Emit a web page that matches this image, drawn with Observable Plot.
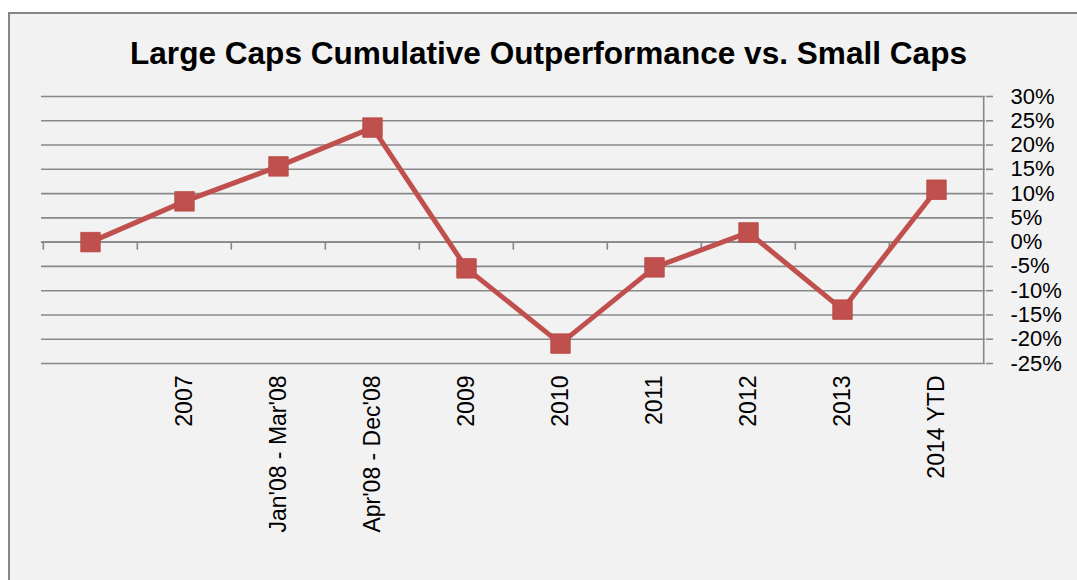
<!DOCTYPE html>
<html>
<head>
<meta charset="utf-8">
<script src="https://cdn.jsdelivr.net/npm/d3@7"></script>
<script src="https://cdn.jsdelivr.net/npm/@observablehq/plot@0.6"></script>
<style>
  html, body { margin: 0; padding: 0; background: #ffffff; width: 1077px; height: 580px; overflow: hidden; }
  #frame { position: absolute; left: 8px; top: 12px; width: 1200px; height: 700px;
           border: 2px solid #868686; background: #f2f2f2; box-sizing: border-box; }
  #chart { position: absolute; left: 0; top: 0; width: 1077px; height: 580px; }
  #title { position: relative; height: 80px; }
  #title span { position: absolute; left: 0; top: 37px; white-space: nowrap; line-height: 1;
                font-family: "Liberation Sans Narrow", "Liberation Sans", sans-serif; font-weight: bold;
                font-size: 32px; color: #000; transform-origin: 0 0; }
  svg { display: block; }
</style>
</head>
<body>
<div id="frame"></div>
<div id="chart">
  <div id="title"><span id="titletext">Large Caps Cumulative Outperformance vs. Small Caps</span></div>
</div>
<script>
const titleText = "Large Caps Cumulative Outperformance vs. Small Caps";
const categories = [" ", "2007", "Jan'08 - Mar'08", "Apr'08 - Dec'08", "2009", "2010", "2011", "2012", "2013", "2014 YTD"];
const values = [0, 8.4, 15.6, 23.6, -5.4, -20.9, -5.2, 2.0, -13.9, 10.8];
const yTicks = [-25, -20, -15, -10, -5, 0, 5, 10, 15, 20, 25, 30];

const data = categories.map((c, i) => ({cat: c, value: values[i]}));

const W = 1077, H = 500, ML = 41, MR = 92, MT = 16, MB = 217;
const bw = (W - ML - MR) / categories.length;
const grid = "#898989";
const red = "#c0504d";

// title fit
const span = document.getElementById("titletext");
span.textContent = titleText;
const tw = span.getBoundingClientRect().width;
const target = 837;
const sx = target / tw;
span.style.transform = `scaleX(${sx})`;
span.style.left = (548.5 - target / 2) + "px";

const chart = Plot.plot({
  width: W, height: H,
  marginLeft: ML, marginRight: MR, marginTop: MT, marginBottom: MB,
  style: {background: "transparent", fontFamily: "Liberation Sans, sans-serif", fontSize: "22px", color: "#000", overflow: "visible"},
  x: {type: "band", domain: categories, padding: 0, axis: null},
  y: {domain: [-25, 30], axis: null},
  marks: [
    Plot.gridY(yTicks, {stroke: grid, strokeOpacity: 1, strokeWidth: 1.6}),
    Plot.axisY(yTicks, {anchor: "right", label: null, tickSize: 7, tickPadding: 18, tickFormat: d => d + "%",
      stroke: grid, strokeWidth: 1.6, fill: "#000", fontSize: 22}),
    // right axis line
    Plot.ruleX([categories[categories.length - 1]], {x: d => d, y1: -25, y2: 30, dx: bw / 2, stroke: grid, strokeWidth: 1.6}),
    // zero axis tick marks at category boundaries
    Plot.ruleX(categories, {x: d => d, y1: 0, y2: 0, insetBottom: -8, dx: -bw / 2, stroke: grid, strokeWidth: 1.6}),
    Plot.ruleY([0], {stroke: grid, strokeWidth: 1.6}),
    Plot.line(data, {x: "cat", y: "value", stroke: red, strokeWidth: 5, strokeLinejoin: "miter"}),
    Plot.dot(data, {x: "cat", y: "value", symbol: "square", r: 11, fill: red, stroke: "#b94643", strokeWidth: 0.8}),
    Plot.text(data, {x: "cat", text: "cat", frameAnchor: "bottom", rotate: -90, textAnchor: "end",
      lineAnchor: "middle", dy: 12, fontSize: 23, fill: "#000"})
  ]
});
document.getElementById("chart").appendChild(chart);
</script>
</body>
</html>
